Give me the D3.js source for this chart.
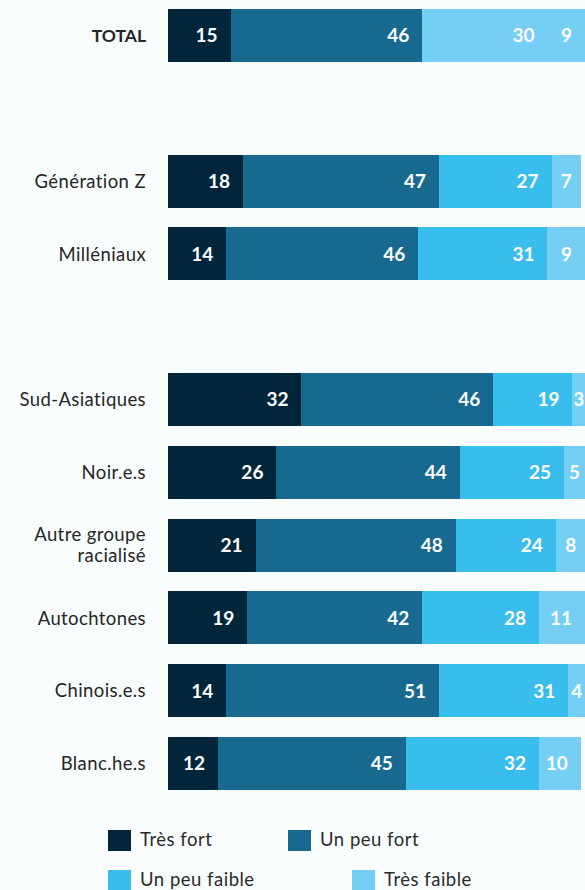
<!DOCTYPE html>
<html>
<head>
<meta charset="utf-8">
<script src="https://cdn.jsdelivr.net/npm/d3@7"></script>
<style>
  html, body { margin: 0; padding: 0; background: #f9fdfd; }
  svg { display: block; }
  text { font-family: Lato, "Noto Sans", sans-serif; }
</style>
</head>
<body>
<svg id="chart" width="585" height="890"></svg>
<script>
// Categories, grouped (blank space separates groups)
const groups = [
  ["TOTAL"],
  ["Génération Z", "Milléniaux"],
  ["Sud-Asiatiques", "Noir.e.s", "Autre groupe racialisé", "Autochtones", "Chinois.e.s", "Blanc.he.s"]
];
const seriesNames = ["Très fort", "Un peu fort", "Un peu faible", "Très faible"];

// Share of respondents (%) per category, one array per series
const tresFort    = [15, 18, 14, 32, 26, 21, 19, 14, 12];
const unPeuFort   = [46, 47, 46, 46, 44, 48, 42, 51, 45];
const unPeuFaible = [30, 27, 31, 19, 25, 24, 28, 31, 32];
const tresFaible  = [ 9,  7,  9,  3,  5,  8, 11,  4, 10];

const colors = ["#01263c", "#176990", "#38bdec", "#75cff4"];

const categories = groups.flat();
const rows = categories.map((c, i) => ({
  category: c,
  "Très fort": tresFort[i],
  "Un peu fort": unPeuFort[i],
  "Un peu faible": unPeuFaible[i],
  "Très faible": tresFaible[i]
}));

// slot index for each row: an empty slot between groups
const slotOf = new Map();
let s = 0;
groups.forEach((g, gi) => {
  if (gi > 0) s += 1;
  g.forEach(c => { slotOf.set(c, s); s += 1; });
});

const svg = d3.select("#chart");
const x = d3.scaleLinear().domain([0, 100]).range([168, 585]);
const y = d3.scaleLinear().domain([0, 10]).range([9, 737]);
const barH = 53;
const color = d3.scaleOrdinal().domain(seriesNames).range(colors);

const stack = d3.stack().keys(seriesNames);
const stacked = stack(rows);

// the TOTAL bar shows its two weak shares in one shade
function fillFor(key, row) {
  if (row.category === "TOTAL" && key === "Un peu faible") return color("Très faible");
  return color(key);
}

const layer = svg.append("g").selectAll("g")
  .data(stacked)
  .join("g");

layer.selectAll("rect")
  .data(d => d.map(p => ({ key: d.key, p })))
  .join("rect")
  .attr("x", d => Math.round(x(d.p[0])))
  .attr("y", d => Math.round(y(slotOf.get(d.p.data.category))))
  .attr("width", d => Math.round(x(d.p[1])) - Math.round(x(d.p[0])))
  .attr("height", barH)
  .attr("shape-rendering", "crispEdges")
  .attr("fill", d => fillFor(d.key, d.p.data));

// value labels
layer.selectAll("text")
  .data(d => d.map(p => ({ key: d.key, p })))
  .join("text")
  .each(function(d) {
    const x0 = x(d.p[0]), x1 = x(d.p[1]);
    const w = x1 - x0;
    const t = d3.select(this);
    if (w < 30) {
      t.attr("x", (x0 + x1) / 2).attr("text-anchor", "middle");
    } else {
      t.attr("x", x1 - 13).attr("text-anchor", "end");
    }
  })
  .attr("y", d => y(slotOf.get(d.p.data.category)) + barH / 2)
  .attr("dy", "0.36em")
  .attr("fill", "#ffffff")
  .attr("font-size", 19)
  .attr("font-weight", 700)
  .text(d => d.p[1] - d.p[0]);

// category labels
const lab = svg.append("g").selectAll("text")
  .data(categories)
  .join("text")
  .attr("x", 146)
  .attr("y", c => y(slotOf.get(c)) + barH / 2)
  .attr("text-anchor", "end")
  .attr("fill", "#262626")
  .attr("font-size", c => c === "TOTAL" ? 17.5 : 18.5)
  .attr("letter-spacing", c => c === "TOTAL" ? 0 : 0.4)
  .attr("font-weight", c => c === "TOTAL" ? 700 : 400);

lab.each(function(c) {
  const t = d3.select(this);
  if (c === "Autre groupe racialisé") {
    t.append("tspan").attr("x", 146).attr("dy", "-0.2em").text("Autre groupe");
    t.append("tspan").attr("x", 146).attr("dy", "1.1em").text("racialisé");
  } else {
    t.attr("dy", "0.36em").text(c);
  }
});

// legend
const legendPos = [[108, 830], [288, 830], [108, 870], [352, 870]];
const leg = svg.append("g").selectAll("g")
  .data(seriesNames)
  .join("g")
  .attr("transform", (d, i) => `translate(${legendPos[i][0]},${legendPos[i][1]})`);
leg.append("rect")
  .attr("width", 23).attr("height", 21)
  .attr("fill", d => color(d));
leg.append("text")
  .attr("x", 32).attr("y", 15.5)
  .attr("fill", "#2b2b2b")
  .attr("font-size", 18.5)
  .attr("letter-spacing", 0.5)
  .text(d => d);
</script>
</body>
</html>
